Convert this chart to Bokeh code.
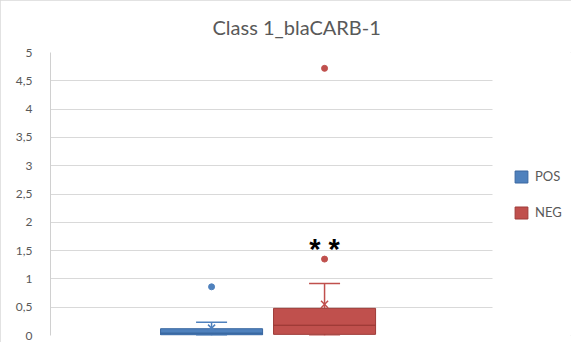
from bokeh.plotting import figure
from bokeh.models import (ColumnDataSource, FactorRange, Range1d, FixedTicker, Legend,
                          LegendItem, Whisker, TeeHead, Title)
from bokeh.transform import dodge
from bokeh.core.properties import value
from bokeh.embed import file_html
from bokeh.resources import INLINE

# ---- data ----
categories = ["POS", "NEG"]
q1 = [0.01, 0.02]
median = [0.04, 0.18]
q3 = [0.12, 0.48]
lower = [0.0, 0.0]
upper = [0.235, 0.92]
mean = [0.13, 0.55]
outlier_cat = ["POS", "NEG", "NEG"]
outlier_val = [0.86, 1.35, 4.72]
sig_cat = ["NEG"]
sig_val = [1.52]
sig_text = ["* *"]
y_ticks = [0, 0.5, 1, 1.5, 2, 2.5, 3, 3.5, 4, 4.5, 5]
y_tick_labels = ["0", "0,5", "1", "1,5", "2", "2,5", "3", "3,5", "4", "4,5", "5"]
title_text = "Class 1_blaCARB-1"

fills = {"POS": "#4F81BD", "NEG": "#C0504D"}
edges = {"POS": "#3A67A0", "NEG": "#9E3B38"}
FONT = "Lato"
GREY = "#595959"

PAD = 1.3055          # factor-range padding on each side (units)
SHIFT = -0.38         # horizontal dodge of the boxes
GRID_END = 2.606      # grid lines stop before the legend area

p = figure(width=571, height=342, output_backend="svg", toolbar_location=None,
           x_range=FactorRange(*categories, range_padding=PAD, range_padding_units="absolute"),
           y_range=Range1d(0, 5),
           min_border_left=50, min_border_right=0, min_border_top=52, min_border_bottom=7)
p.title = None
p.add_layout(Title(text=title_text, align="left", offset=162, text_font=FONT,
                   text_font_size="20px", text_font_style="normal", text_color=GREY,
                   vertical_align="top", standoff=24), "above")
p.outline_line_color = None
p.xaxis.visible = False
p.xgrid.grid_line_color = None
p.ygrid.grid_line_color = "#d9d9d9"
p.ygrid.cross_bounds = (-PAD, GRID_END)
p.yaxis.ticker = FixedTicker(ticks=y_ticks)
p.yaxis.major_label_overrides = {t: l for t, l in zip(y_ticks, y_tick_labels)}
p.yaxis.axis_line_color = "#d0d0d0"
p.yaxis.major_tick_line_color = None
p.yaxis.minor_tick_line_color = None
p.yaxis.major_label_standoff = 12
p.yaxis.major_label_text_font = FONT
p.yaxis.major_label_text_font_size = "12px"
p.yaxis.major_label_text_color = GREY
p.styles = {"outline": "1px solid #d9d9d9", "outline-offset": "-1px"}

items = []
for i, c in enumerate(categories):
    src = ColumnDataSource(dict(cat=[c], q1=[q1[i]], med=[median[i]], q3=[q3[i]],
                                lo=[lower[i]], hi=[upper[i]], mean=[mean[i]]))
    xs = dodge("cat", SHIFT, range=p.x_range)
    p.add_layout(Whisker(source=src, base=xs, lower="q3", upper="hi", dimension="height",
                         line_color=fills[c], line_width=1.5,
                         upper_head=TeeHead(size=31, line_color=fills[c], line_width=1.5),
                         lower_head=None))
    p.add_layout(Whisker(source=src, base=xs, lower="lo", upper="q1", dimension="height",
                         line_color=fills[c], line_width=1.5,
                         lower_head=TeeHead(size=31, line_color=fills[c], line_width=1.5),
                         upper_head=None))
    box = p.vbar(x=xs, top="q3", bottom="q1", width=0.903, source=src,
                 fill_color=fills[c], line_color=edges[c], line_width=1)
    p.vbar(x=xs, top="med", bottom="med", width=0.903, source=src,
           fill_color=None, line_color=edges[c], line_width=1)
    p.scatter(x=xs, y="mean", marker="x", size=10, source=src,
              line_color=fills[c], line_width=1.5)
    ocats = [oc for oc in outlier_cat if oc == c]
    ovals = [v for oc, v in zip(outlier_cat, outlier_val) if oc == c]
    osrc = ColumnDataSource(dict(cat=ocats, val=ovals))
    p.scatter(x=dodge("cat", SHIFT, range=p.x_range), y="val", marker="circle", size=6,
              source=osrc, fill_color=fills[c], line_color=fills[c])
    items.append(LegendItem(label=c, renderers=[box]))

ssrc = ColumnDataSource(dict(cat=sig_cat, val=sig_val, txt=sig_text))
p.text(x=dodge("cat", SHIFT, range=p.x_range), y="val", text="txt", source=ssrc,
       text_font=value("Liberation Sans"), text_font_size="29px", text_font_style="bold",
       text_color="black", text_align="center", text_baseline="middle")

legend = Legend(items=items, location=(463, 115), orientation="vertical",
                margin=0, padding=0, spacing=20, label_height=15, glyph_height=15,
                glyph_width=16, label_standoff=6, label_text_font=FONT,
                label_text_font_size="13px", label_text_color=GREY,
                background_fill_alpha=0, border_line_color=None)
p.add_layout(legend, "center")

open("out.html", "w").write(file_html(p, INLINE))
